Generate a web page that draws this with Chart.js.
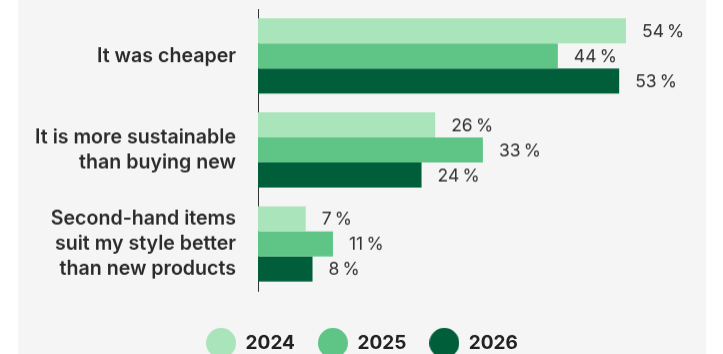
<!DOCTYPE html>
<html>
<head>
<meta charset="utf-8">
<script src="https://cdn.jsdelivr.net/npm/chart.js@4"></script>
<style>
  html, body { margin: 0; padding: 0; background: #fff; overflow: hidden; }
  #panel { position: absolute; left: 18px; top: 0; width: 688px; height: 361.5px; background: #f5f5f5; }
</style>
</head>
<body>
<div id="panel"><canvas id="chart"></canvas></div>
<script>
// reasons for buying second-hand, share of respondents per year
const reasons = [
    'It was cheaper',
    ['It is more sustainable', 'than buying new'],
    ['Second-hand items', 'suit my style better', 'than new products']
];
const years = ['2024', '2025', '2026'];
const values_2024 = [54, 26, 7];
const values_2025 = [44, 33, 11];
const values_2026 = [53, 24, 8];
const year_colors = ['#aae4bb', '#5fc587', '#005e3b'];

const label_font = '"Inter", "Noto Sans", sans-serif';

// round legend markers, 30px across
function make_dot(color){
    let c = document.createElement('canvas');
    c.width = 30;
    c.height = 30;
    let g = c.getContext('2d');
    g.fillStyle = color;
    g.beginPath();
    g.arc(15, 15, 15, 0, Math.PI * 2);
    g.fill();
    return c;
}

// writes "NN %" just past the end of every bar
const value_labels = {
    id: 'value_labels',
    afterDatasetsDraw(chart) {
        let ctx = chart.ctx;
        ctx.save();
        ctx.font = '400 17.5px ' + label_font;
        ctx.fillStyle = '#333';
        ctx.textAlign = 'left';
        ctx.textBaseline = 'middle';
        chart.data.datasets.forEach((ds, i) => {
            chart.getDatasetMeta(i).data.forEach((bar, j) => {
                ctx.fillText(ds.data[j] + '\u2009%', bar.x + 16, bar.y + 1);
            });
        });
        ctx.restore();
    }
};

function init(){
    let series = [values_2024, values_2025, values_2026];
    let dots = year_colors.map(make_dot);
    let ctx = document.getElementById('chart');
    new Chart(ctx, {
        type: 'bar',
        data: {
            labels: reasons,
            datasets: series.map((vals, i) => ({
                label: years[i],
                data: vals,
                backgroundColor: year_colors[i],
                borderWidth: 0,
                categoryPercentage: 0.8,
                barPercentage: 1.0
            }))
        },
        options: {
            indexAxis: 'y',
            responsive: true,
            maintainAspectRatio: false,
            animation: false,
            layout: { padding: { top: 9, right: 0, left: 0, bottom: 0 } },
            scales: {
                x: {
                    min: 0,
                    max: 65.74,
                    grid: { display: false, drawTicks: false },
                    border: { display: false },
                    ticks: { display: false },
                    afterFit: s => { s.height = 19.5; s.paddingLeft = 0; s.paddingRight = 0; }
                },
                y: {
                    grid: { display: false, drawTicks: false },
                    border: { display: true, color: '#333', width: 1 },
                    ticks: {
                        autoSkip: false,
                        padding: 22,
                        color: '#2b2b2b',
                        font: { family: label_font, size: 19.6, weight: '600', lineHeight: 1.28 }
                    },
                    afterFit: s => { s.width = 240; s.paddingTop = 0; s.paddingBottom = 0; }
                }
            },
            plugins: {
                tooltip: { enabled: false },
                legend: {
                    position: 'bottom',
                    labels: {
                        usePointStyle: true,
                        pointStyleWidth: 30,
                        padding: 23,
                        color: '#222',
                        font: { family: label_font, size: 19, weight: '700' },
                        generateLabels: chart => Chart.defaults.plugins.legend.labels.generateLabels(chart)
                            .map((item, i) => Object.assign(item, { pointStyle: dots[i] }))
                    }
                }
            }
        },
        plugins: [value_labels]
    });
}

init();
</script>
</body>
</html>
